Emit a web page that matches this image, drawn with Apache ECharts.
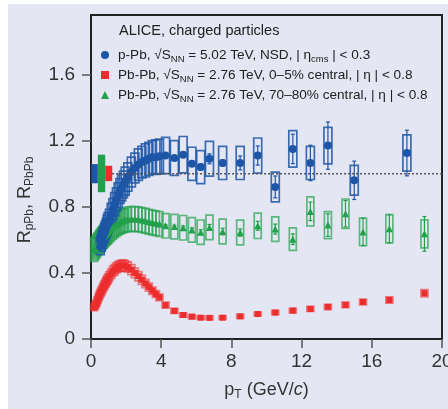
<!DOCTYPE html>
<html>
<head>
<meta charset="UTF-8">
<title>ALICE R_pPb, R_PbPb</title>
<script src="https://cdn.jsdelivr.net/npm/echarts@6/dist/echarts.min.js"></script>
<style>
    body { margin: 0; background: #fff; }
    #wrap { position: relative; width: 448px; height: 409px; }
    #panel { position: absolute; left: 8px; top: 4px; right: 0; bottom: 0; background: #e4e6f3; }
    #chart { position: absolute; left: 0; top: 0; width: 448px; height: 409px; }
</style>
</head>
<body>
<div id="wrap"><div id="panel"></div><div id="chart"></div></div>

<script type="text/javascript">
    // p-Pb, 5.02 TeV
    var ptPPb = [0.525, 0.575, 0.625, 0.675, 0.725, 0.775, 0.825, 0.875, 0.925, 0.975,
        1.05, 1.15, 1.25, 1.35, 1.45, 1.55, 1.65, 1.75, 1.85, 1.95,
        2.1, 2.3, 2.5, 2.7, 2.9, 3.1, 3.3, 3.5, 3.7, 3.9,
        4.25, 4.75, 5.25, 5.75, 6.25, 6.75,
        7.5, 8.5, 9.5, 10.5, 11.5, 12.5, 13.5, 15, 18];
    var rPPb = [0.56, 0.58, 0.60, 0.615, 0.63, 0.645, 0.66, 0.675, 0.69, 0.705,
        0.725, 0.755, 0.785, 0.815, 0.845, 0.87, 0.895, 0.915, 0.935, 0.955,
        0.98, 1.01, 1.035, 1.055, 1.07, 1.08, 1.09, 1.10, 1.10, 1.105,
        1.11, 1.095, 1.115, 1.06, 1.04, 1.09,
        1.065, 1.065, 1.11, 0.92, 1.15, 1.065, 1.17, 0.96, 1.125];
    var sysPPb = [0.05, 0.05, 0.05, 0.05, 0.05, 0.055, 0.055, 0.055, 0.06, 0.06,
        0.06, 0.065, 0.065, 0.07, 0.07, 0.075, 0.075, 0.08, 0.08, 0.085,
        0.085, 0.09, 0.09, 0.095, 0.095, 0.1, 0.1, 0.1, 0.105, 0.105,
        0.11, 0.105, 0.11, 0.1, 0.1, 0.105,
        0.1, 0.1, 0.106, 0.09, 0.11, 0.1, 0.11, 0.09, 0.11];
    var statPPb = [0.004, 0.004, 0.004, 0.004, 0.004, 0.004, 0.004, 0.004, 0.004, 0.004,
        0.004, 0.004, 0.004, 0.004, 0.004, 0.004, 0.004, 0.004, 0.004, 0.004,
        0.004, 0.004, 0.004, 0.004, 0.004, 0.005, 0.005, 0.005, 0.006, 0.006,
        0.008, 0.01, 0.012, 0.015, 0.02, 0.03,
        0.02, 0.042, 0.058, 0.066, 0.089, 0.107, 0.143, 0.116, 0.138];

    // Pb-Pb, 2.76 TeV
    var ptPbPb = [0.175, 0.225, 0.275, 0.325, 0.375, 0.425, 0.475, 0.525, 0.575, 0.625,
        0.675, 0.725, 0.775, 0.825, 0.875, 0.925, 0.975,
        1.05, 1.15, 1.25, 1.35, 1.45, 1.55, 1.65, 1.75, 1.85, 1.95,
        2.1, 2.3, 2.5, 2.7, 2.9, 3.1, 3.3, 3.5, 3.7, 3.9,
        4.25, 4.75, 5.25, 5.75, 6.25, 6.75,
        7.5, 8.5, 9.5, 10.5, 11.5, 12.5, 13.5, 14.5, 15.5, 17, 19];
    // 0-5% central
    var rCentral = [0.19, 0.20, 0.21, 0.22, 0.235, 0.25, 0.262, 0.275, 0.286, 0.297,
        0.308, 0.318, 0.328, 0.338, 0.348, 0.357, 0.366,
        0.38, 0.395, 0.41, 0.42, 0.43, 0.437, 0.442, 0.445, 0.445, 0.443,
        0.435, 0.42, 0.40, 0.38, 0.358, 0.336, 0.314, 0.292, 0.272, 0.252,
        0.205, 0.17, 0.145, 0.135, 0.129, 0.128,
        0.129, 0.137, 0.151, 0.16, 0.172, 0.182, 0.194, 0.206, 0.224, 0.236, 0.277];
    var sysCentral = [0.018, 0.018, 0.019, 0.019, 0.02, 0.02, 0.021, 0.021, 0.022, 0.022,
        0.023, 0.023, 0.024, 0.024, 0.025, 0.025, 0.026,
        0.027, 0.028, 0.029, 0.03, 0.03, 0.031, 0.031, 0.032, 0.032, 0.032,
        0.031, 0.03, 0.029, 0.028, 0.027, 0.025, 0.024, 0.022, 0.021, 0.02,
        0.018, 0.015, 0.013, 0.012, 0.011, 0.011,
        0.011, 0.012, 0.012, 0.013, 0.014, 0.015, 0.016, 0.017, 0.018, 0.019, 0.022];
    var statCentral = [0.002, 0.002, 0.002, 0.002, 0.002, 0.002, 0.002, 0.002, 0.002, 0.002,
        0.002, 0.002, 0.002, 0.002, 0.002, 0.002, 0.002,
        0.002, 0.002, 0.002, 0.002, 0.002, 0.002, 0.002, 0.002, 0.002, 0.002,
        0.002, 0.002, 0.002, 0.002, 0.002, 0.002, 0.002, 0.002, 0.002, 0.002,
        0.002, 0.002, 0.002, 0.002, 0.002, 0.002,
        0.002, 0.002, 0.003, 0.003, 0.004, 0.005, 0.006, 0.007, 0.008, 0.009, 0.012];
    // 70-80% central
    var rPeriph = [0.54, 0.548, 0.556, 0.564, 0.572, 0.58, 0.588, 0.595, 0.602, 0.608,
        0.614, 0.62, 0.626, 0.632, 0.637, 0.642, 0.647,
        0.656, 0.666, 0.676, 0.685, 0.693, 0.70, 0.706, 0.712, 0.716, 0.72,
        0.724, 0.726, 0.726, 0.724, 0.72, 0.716, 0.71, 0.705, 0.70, 0.695,
        0.685, 0.68, 0.673, 0.66, 0.646, 0.675,
        0.65, 0.644, 0.685, 0.665, 0.604, 0.772, 0.689, 0.758, 0.648, 0.667, 0.636];
    var sysPeriph = [0.07, 0.07, 0.07, 0.07, 0.07, 0.07, 0.07, 0.07, 0.07, 0.07,
        0.07, 0.07, 0.07, 0.07, 0.07, 0.07, 0.07,
        0.072, 0.072, 0.072, 0.072, 0.072, 0.072, 0.072, 0.072, 0.072, 0.072,
        0.075, 0.075, 0.075, 0.075, 0.075, 0.075, 0.075, 0.075, 0.075, 0.075,
        0.074, 0.074, 0.074, 0.074, 0.074, 0.074,
        0.075, 0.075, 0.077, 0.074, 0.068, 0.088, 0.082, 0.089, 0.083, 0.085, 0.085];
    var statPeriph = [0.003, 0.003, 0.003, 0.003, 0.003, 0.003, 0.003, 0.003, 0.003, 0.003,
        0.003, 0.003, 0.003, 0.003, 0.003, 0.003, 0.003,
        0.003, 0.003, 0.003, 0.003, 0.003, 0.003, 0.003, 0.003, 0.003, 0.003,
        0.003, 0.003, 0.003, 0.003, 0.003, 0.003, 0.003, 0.003, 0.003, 0.003,
        0.006, 0.008, 0.01, 0.012, 0.015, 0.018,
        0.02, 0.022, 0.027, 0.03, 0.032, 0.056, 0.068, 0.08, 0.083, 0.085, 0.105];

    // normalisation uncertainties at R = 1 : [pT from, pT to, low, high]
    var normPPb = [0.02, 0.39, 0.942, 1.058];
    var normPeriph = [0.39, 0.81, 0.888, 1.115];
    var normCentral = [0.81, 1.21, 0.955, 1.048];
    var unityLine = [[1.2, 1], [20, 1]];

    var xTicks = [0, 4, 8, 12, 16, 20];
    var yTicks = [0, 0.4, 0.8, 1.2, 1.6];

    var blue = '#1d56a6', red = '#ec2d2d', green = '#22a14b';
    var font = "'Liberation Sans', Arial, sans-serif";

    function points(pt, r) {
        return pt.map(function (x, i) { return [x, r[i]]; });
    }
    function bands(pt, r, e) {
        return pt.map(function (x, i) { return [x, r[i] - e[i], r[i] + e[i]]; });
    }

    // systematic boxes
    function boxSeries(pt, r, sys, color, w) {
        return {
            type: 'custom', silent: true, encode: { x: 0, y: [1, 2] },
            data: bands(pt, r, sys),
            renderItem: function (params, api) {
                var top = api.coord([api.value(0), api.value(2)]);
                var bot = api.coord([api.value(0), api.value(1)]);
                return {
                    type: 'rect',
                    shape: { x: top[0] - w / 2, y: top[1], width: w, height: bot[1] - top[1] },
                    style: { fill: 'none', stroke: color, lineWidth: 1.7 }
                };
            }
        };
    }
    // statistical bars
    function barSeries(pt, r, stat, color) {
        return {
            type: 'custom', silent: true, encode: { x: 0, y: [1, 2] },
            data: bands(pt, r, stat),
            renderItem: function (params, api) {
                var top = api.coord([api.value(0), api.value(2)]);
                var bot = api.coord([api.value(0), api.value(1)]);
                var st = { stroke: color, lineWidth: 1.2 };
                return {
                    type: 'group', children: [
                        { type: 'line', shape: { x1: top[0], y1: top[1], x2: bot[0], y2: bot[1] }, style: st },
                        { type: 'line', shape: { x1: top[0] - 2, y1: top[1], x2: top[0] + 2, y2: top[1] }, style: st },
                        { type: 'line', shape: { x1: bot[0] - 2, y1: bot[1], x2: bot[0] + 2, y2: bot[1] }, style: st }
                    ]
                };
            }
        };
    }

    var legendText = {
        pPb: '{t|p-Pb, √S}{s|NN}{t| = 5.02 TeV, NSD, | η}{s|cms}{t| | < 0.3}',
        central: '{t|Pb-Pb, √S}{s|NN}{t| = 2.76 TeV, 0–5% central, | η | < 0.8}',
        periph: '{t|Pb-Pb, √S}{s|NN}{t| = 2.76 TeV, 70–80% central, | η | < 0.8}'
    };

    var myChart = echarts.init(document.getElementById('chart'));

    var option = {
        animation: false,
        backgroundColor: 'transparent',
        title: {
            text: 'ALICE, charged particles',
            left: 119, top: 22, padding: 0,
            textStyle: { fontFamily: font, fontSize: 14.5, fontWeight: 'normal', color: '#222', lineHeight: 18 }
        },
        legend: {
            data: ['pPb', 'central', 'periph'],
            orient: 'vertical', left: 101, top: 48, padding: 0,
            itemGap: 4, itemWidth: 8, itemHeight: 8,
            formatter: function (name) { return legendText[name]; },
            textStyle: {
                padding: [0, 0, 0, 4],
                rich: {
                    t: { fontFamily: font, fontSize: 13.6, color: '#222', lineHeight: 18 },
                    s: { fontFamily: font, fontSize: 9.5, color: '#222', lineHeight: 8, verticalAlign: 'bottom' }
                }
            }
        },
        grid: {
            left: 91, right: 6, top: 15, bottom: 70,
            containLabel: false, outerBoundsMode: 'none',
            show: true, borderColor: '#222', borderWidth: 2
        },
        xAxis: {
            type: 'value', min: 0, max: 20, interval: 4,
            axisLine: { show: false },
            splitLine: { show: false },
            axisTick: { show: true, length: 9, customValues: xTicks, lineStyle: { color: '#555', width: 1.5 } },
            axisLabel: { customValues: xTicks, margin: 13, fontFamily: font, fontSize: 19, color: '#333' },
            name: '{r|p}{s|T}{r| (GeV/}{i|c}{r|)}',
            nameLocation: 'middle', nameGap: 40,
            nameTextStyle: {
                rich: {
                    r: { fontFamily: font, fontSize: 18, color: '#333', lineHeight: 22 },
                    i: { fontFamily: font, fontSize: 18, fontStyle: 'italic', color: '#333', lineHeight: 22 },
                    s: { fontFamily: font, fontSize: 12, color: '#333', lineHeight: 10, verticalAlign: 'bottom' }
                }
            }
        },
        yAxis: {
            type: 'value', min: 0, max: 1.96,
            axisLine: { show: false },
            splitLine: { show: false },
            axisTick: { show: true, length: 9, customValues: yTicks, lineStyle: { color: '#555', width: 1.5 } },
            axisLabel: { customValues: yTicks, margin: 16, fontFamily: font, fontSize: 19, color: '#333' },
            name: '{r|R}{s|pPb}{r|, R}{s|PbPb}',
            nameLocation: 'middle', nameGap: 55, nameRotate: 90,
            nameTextStyle: {
                padding: [0, 46, 0, 0],
                rich: {
                    r: { fontFamily: font, fontSize: 18, color: '#333', lineHeight: 22 },
                    s: { fontFamily: font, fontSize: 12, color: '#333', lineHeight: 10, verticalAlign: 'bottom' }
                }
            }
        },
        series: [
            {
                type: 'line', data: unityLine, symbol: 'none', silent: true,
                lineStyle: { color: '#555', width: 1.5, type: [2, 2] }
            },
            {
                type: 'custom', silent: true, encode: { x: [0, 1], y: [2, 3] },
                data: [normPPb, normPeriph, normCentral],
                renderItem: function (params, api) {
                    var cols = [blue, green, red];
                    var p0 = api.coord([api.value(0), api.value(3)]);
                    var p1 = api.coord([api.value(1), api.value(2)]);
                    return {
                        type: 'rect',
                        shape: { x: p0[0], y: p0[1], width: p1[0] - p0[0], height: p1[1] - p0[1] },
                        style: { fill: cols[params.dataIndex] }
                    };
                }
            },
            boxSeries(ptPbPb, rPeriph, sysPeriph, 'rgba(34,161,75,0.7)', 7),
            barSeries(ptPbPb, rPeriph, statPeriph, green),
            {
                name: 'periph', type: 'scatter', symbol: 'triangle', symbolSize: 7,
                itemStyle: { color: green, opacity: 1 },
                data: points(ptPbPb, rPeriph)
            },
            boxSeries(ptPbPb, rCentral, sysCentral, 'rgba(236,45,45,0.6)', 7),
            barSeries(ptPbPb, rCentral, statCentral, red),
            {
                name: 'central', type: 'scatter', symbol: 'rect', symbolSize: 6,
                itemStyle: { color: red, opacity: 1 },
                data: points(ptPbPb, rCentral)
            },
            boxSeries(ptPPb, rPPb, sysPPb, 'rgba(29,86,166,0.85)', 8),
            barSeries(ptPPb, rPPb, statPPb, blue),
            {
                name: 'pPb', type: 'scatter', symbol: 'circle', symbolSize: 8,
                itemStyle: { color: blue, opacity: 1 },
                data: points(ptPPb, rPPb)
            }
        ]
    };

    myChart.setOption(option);
</script>
</body>
</html>
